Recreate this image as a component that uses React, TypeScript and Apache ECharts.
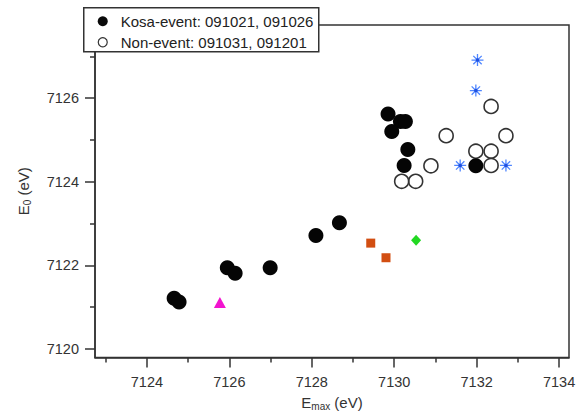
import React, { useEffect, useRef } from "react";
import * as echarts from "echarts";

// Kosa-event (filled circles)
const kosaX = [7124.66, 7124.78, 7125.95, 7126.14, 7126.99, 7128.10, 7128.67, 7129.85, 7130.15, 7130.27, 7129.94, 7130.33, 7130.24, 7131.98];
const kosaY = [7121.21, 7121.12, 7121.94, 7121.81, 7121.94, 7122.71, 7123.02, 7125.62, 7125.44, 7125.44, 7125.20, 7124.77, 7124.39, 7124.38];
// Non-event (open circles)
const nonX = [7132.35, 7131.26, 7132.71, 7131.98, 7132.35, 7132.35, 7130.89, 7130.18, 7130.52];
const nonY = [7125.80, 7125.10, 7125.10, 7124.73, 7124.73, 7124.39, 7124.38, 7124.01, 7124.01];
// Blue asterisks
const starX = [7132.02, 7131.98, 7131.60, 7132.71];
const starY = [7126.91, 7126.18, 7124.39, 7124.39];
// Orange squares
const sqX = [7129.43, 7129.80];
const sqY = [7122.53, 7122.18];
// Green diamond
const diaX = [7130.53];
const diaY = [7122.60];
// Magenta triangle
const triX = [7125.77];
const triY = [7121.11];

const xMajor = [7124, 7126, 7128, 7130, 7132, 7134];
const xMinor = [7123, 7125, 7127, 7129, 7131, 7133];
const yMajor = [7120, 7122, 7124, 7126];
const yMinor = [7121, 7123, 7125, 7127];

const legendLabels = ["Kosa-event: 091021, 091026", "Non-event: 091031, 091201"];

const zip = (xs: number[], ys: number[]) => xs.map((x, i) => [x, ys[i]]);

const FONT = "'Liberation Sans', Arial, sans-serif";
const AX = "#333";

export default function App() {
  const ref = useRef<HTMLDivElement>(null);
  useEffect(() => {
    if (!ref.current) return;
    const chart = echarts.init(ref.current, null, { renderer: "svg" });
    const xMin = 7122.74, xMax = 7134.24, yMin = 7119.79, yMax = 7127.75;
    const labelStyle = { fontSize: 14.5, fontFamily: FONT, color: "#333", formatter: (v: number) => String(v) };
    chart.setOption({
      animation: false,
      backgroundColor: "#fff",
      grid: {
        left: 95, right: 15, top: 25, bottom: 52,
        show: true, borderColor: AX, borderWidth: 1.5, backgroundColor: "transparent",
      },
      xAxis: [
        {
          type: "value", min: xMin, max: xMax, position: "bottom",
          axisLine: { show: true, lineStyle: { color: AX, width: 1.5 } },
          axisTick: { show: true, customValues: xMajor, length: 10, lineStyle: { color: AX, width: 1.5 } },
          axisLabel: { show: true, customValues: xMajor, margin: 17, ...labelStyle },
          splitLine: { show: false },
          name: "E{sub|max} (eV)",
          nameLocation: "middle",
          nameGap: 28,
          nameTextStyle: {
            fontSize: 15, fontFamily: FONT, color: "#333",
            rich: { sub: { fontSize: 10, fontFamily: FONT, color: "#333", padding: [8, 0, 0, 0] } },
          },
        },
        {
          type: "value", min: xMin, max: xMax, position: "bottom",
          axisLine: { show: false },
          axisTick: { show: true, customValues: xMinor, length: 5, lineStyle: { color: AX, width: 1.5 } },
          axisLabel: { show: false },
          splitLine: { show: false },
        },
      ],
      yAxis: [
        {
          type: "value", min: yMin, max: yMax, position: "left",
          axisLine: { show: true, lineStyle: { color: AX, width: 1.5 } },
          axisTick: { show: true, customValues: yMajor, length: 10, lineStyle: { color: AX, width: 1.5 } },
          axisLabel: { show: true, customValues: yMajor, margin: 16, ...labelStyle },
          splitLine: { show: false },
          name: "E{sub|0} (eV)",
          nameLocation: "middle",
          nameRotate: 90,
          nameGap: 63,
          nameTextStyle: {
            fontSize: 15, fontFamily: FONT, color: "#333",
            rich: { sub: { fontSize: 10, fontFamily: FONT, color: "#333", padding: [8, 0, 0, 0] } },
          },
        },
        {
          type: "value", min: yMin, max: yMax, position: "left",
          axisLine: { show: false },
          axisTick: { show: true, customValues: yMinor, length: 5, lineStyle: { color: AX, width: 1.5 } },
          axisLabel: { show: false },
          splitLine: { show: false },
        },
      ],
      series: [
        {
          name: legendLabels[1], type: "scatter", data: zip(nonX, nonY),
          symbol: "circle", symbolSize: 14,
          itemStyle: { color: "rgba(255,255,255,0)", borderColor: "#333", borderWidth: 1.6, opacity: 1 },
        },
        {
          name: legendLabels[0], type: "scatter", data: zip(kosaX, kosaY),
          symbol: "circle", symbolSize: 15,
          itemStyle: { color: "#050505", opacity: 1 },
        },
        {
          name: "asterisk", type: "scatter", data: zip(starX, starY),
          symbol: "path://M0,6L12,6M6,0L6,12M1.8,1.8L10.2,10.2M10.2,1.8L1.8,10.2",
          symbolSize: 12,
          itemStyle: { color: "rgba(0,0,0,0)", borderColor: "#4f86ff", borderWidth: 1.3, opacity: 1 },
        },
        {
          name: "asteriskCenter", type: "scatter", data: zip(starX, starY),
          symbol: "circle", symbolSize: 3.5,
          itemStyle: { color: "#1f4fe0", opacity: 1 },
        },
        {
          name: "square", type: "scatter", data: zip(sqX, sqY),
          symbol: "rect", symbolSize: 9,
          itemStyle: { color: "#d24e12", opacity: 1 },
        },
        {
          name: "diamond", type: "scatter", data: zip(diaX, diaY),
          symbol: "diamond", symbolSize: [10, 11],
          itemStyle: { color: "#22d822", opacity: 1 },
        },
        {
          name: "triangle", type: "scatter", data: zip(triX, triY),
          symbol: "triangle", symbolSize: [12, 11],
          itemStyle: { color: "#f214cf", opacity: 1 },
        },
      ],
      graphic: [
        {
          type: "group", left: 83, top: 7, z: 100,
          children: [
            { type: "rect", shape: { x: 0, y: 0, width: 235, height: 44 }, style: { fill: "#fff", stroke: AX, lineWidth: 1.5 }, z: 100 },
            { type: "circle", shape: { cx: 19, cy: 13.5, r: 5 }, style: { fill: "#0a0a0a" }, z: 101 },
            { type: "circle", shape: { cx: 19, cy: 34.5, r: 4.5 }, style: { fill: "#fff", stroke: "#333", lineWidth: 1.2 }, z: 101 },
            { type: "text", x: 37, y: 13.5, style: { text: legendLabels[0], font: `15px ${FONT}`, fill: "#222", verticalAlign: "middle" }, z: 101 },
            { type: "text", x: 37, y: 34.5, style: { text: legendLabels[1], font: `15px ${FONT}`, fill: "#222", verticalAlign: "middle" }, z: 101 },
          ],
        },
      ],
    });
    return () => chart.dispose();
  }, []);
  return <div ref={ref} style={{ width: 584, height: 416, position: "absolute", left: 0, top: 0 }} />;
}
